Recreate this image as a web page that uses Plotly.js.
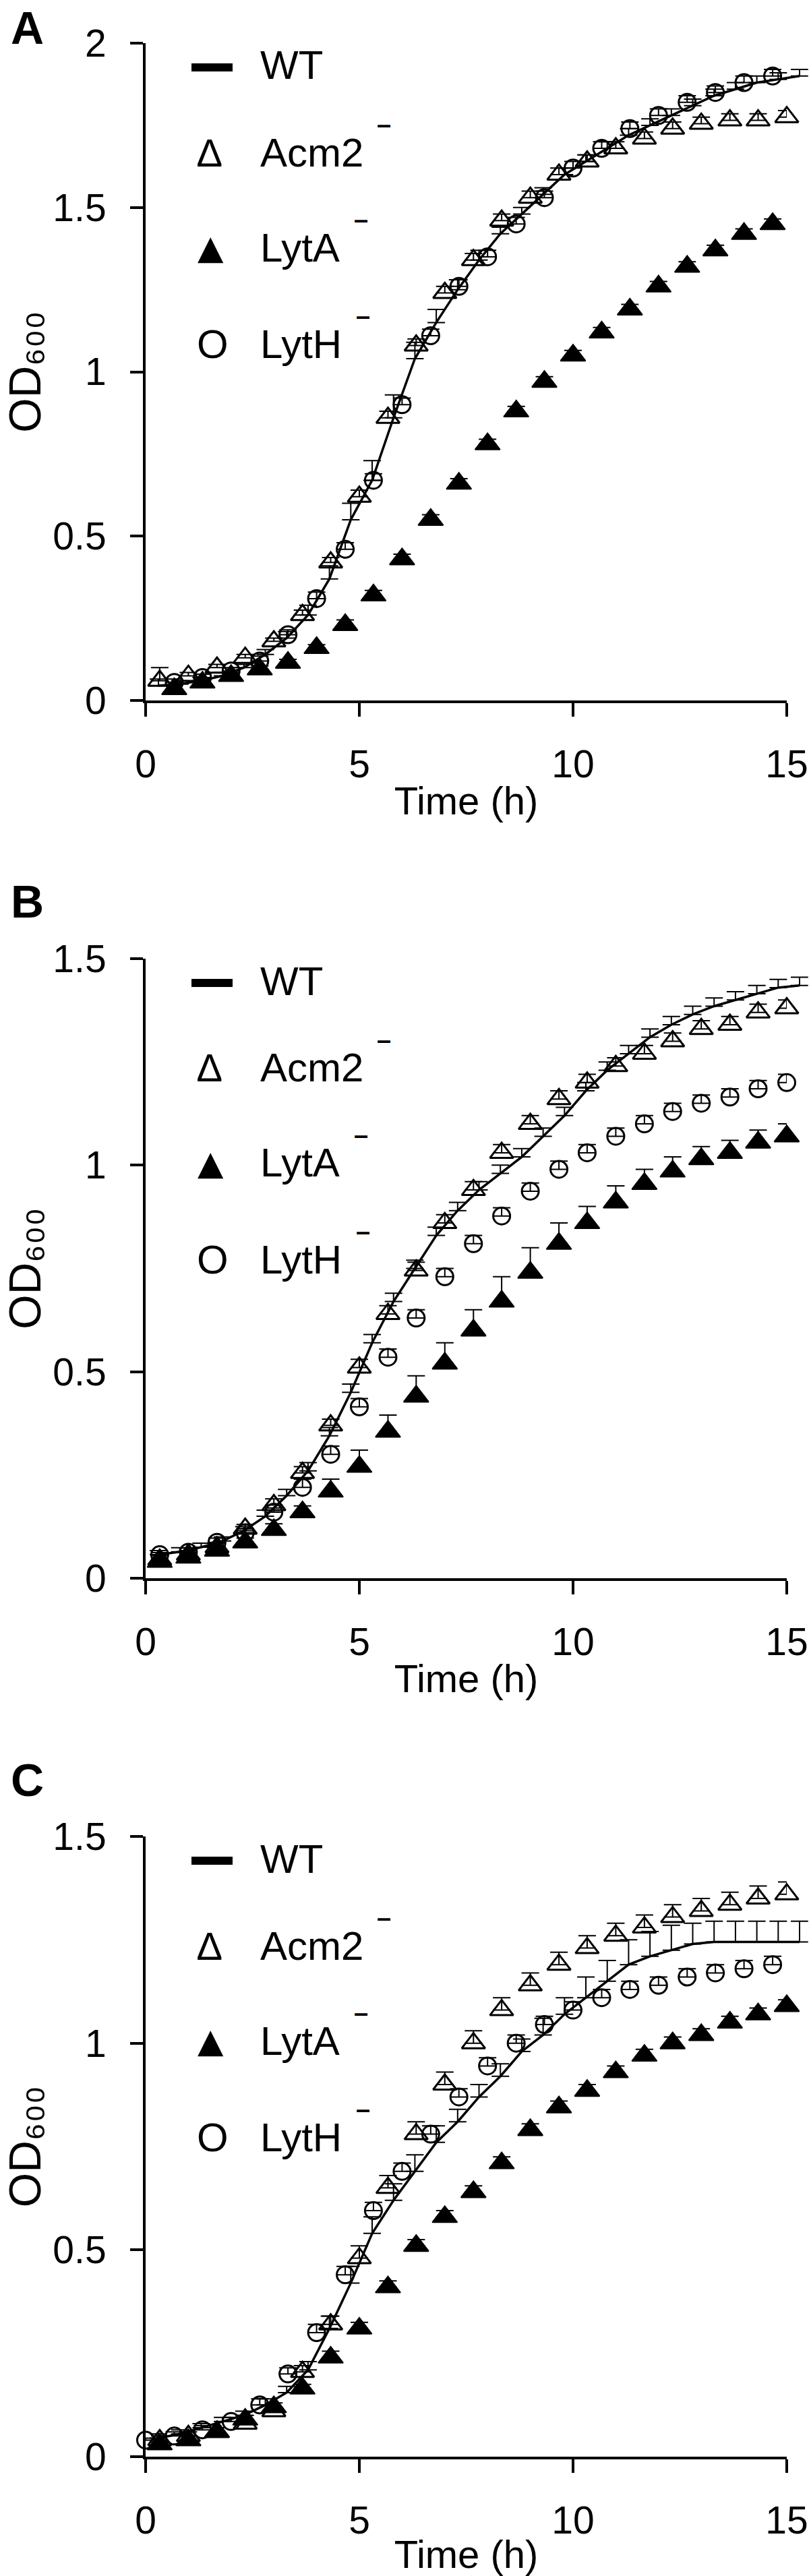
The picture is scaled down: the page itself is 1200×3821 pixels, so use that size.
<!DOCTYPE html>
<html>
<head>
<meta charset="utf-8">
<script src="https://cdn.plot.ly/plotly-3.0.1.min.js"></script>
<style>html,body{margin:0;padding:0;background:#fff;}#chart{width:1200px;height:3821px;}</style>
</head>
<body>
<div id="chart"></div>
<script>
// ---------- time points (h) ----------
const tWT = [0.3,0.8,1.3,1.8,2.3,2.8,3.3,3.8,4.3,4.8,5.3,5.8,6.3,6.8,7.3,7.8,8.3,8.8,9.3,9.8,10.3,10.8,11.3,11.8,12.3,12.8,13.3,13.8,14.3,14.8,15.3];
const tOdd = [0.33,1,1.67,2.33,3,3.67,4.33,5,5.67,6.33,7,7.67,8.33,9,9.67,10.33,11,11.67,12.33,13,13.67,14.33,15];
const tEven = [0.67,1.33,2,2.67,3.33,4,4.67,5.33,6,6.67,7.33,8,8.67,9.33,10,10.67,11.33,12,12.67,13.33,14,14.67];
const tZero = [0,0.67,1.33,2,2.67,3.33,4,4.67,5.33,6,6.67,7.33,8,8.67,9.33,10,10.67,11.33,12,12.67,13.33,14,14.67];

// ---------- Panel A ----------
const A_wt = [0.045,0.05,0.06,0.075,0.10,0.14,0.19,0.26,0.37,0.55,0.67,0.86,1.04,1.15,1.25,1.34,1.42,1.48,1.54,1.60,1.64,1.68,1.72,1.75,1.78,1.81,1.84,1.86,1.88,1.89,1.90];
const A_wtErr = [0.02,0.01,0.01,0.01,0.01,0.015,0.02,0.03,0.04,0.05,0.06,0.07,0.05,0.04,0.03,0.03,0.02,0.02,0.02,0.02,0.02,0.02,0.02,0.02,0.02,0.02,0.02,0.02,0.02,0.02,0.02];
const A_acm2 = [0.06,0.075,0.10,0.13,0.18,0.26,0.42,0.62,0.86,1.08,1.24,1.34,1.46,1.53,1.60,1.64,1.68,1.71,1.74,1.755,1.765,1.765,1.775];
const A_acm2Err = [0.04,0.01,0.01,0.01,0.01,0.015,0.015,0.02,0.02,0.02,0.02,0.02,0.02,0.02,0.02,0.02,0.02,0.02,0.02,0.02,0.02,0.02,0.02];
const A_lytA = [0.035,0.055,0.075,0.095,0.115,0.16,0.23,0.32,0.43,0.55,0.66,0.78,0.88,0.97,1.05,1.12,1.19,1.26,1.32,1.37,1.42,1.45];
const A_lytAErr = [0.01,0.01,0.01,0.01,0.01,0.01,0.015,0.015,0.015,0.015,0.015,0.015,0.015,0.015,0.015,0.015,0.015,0.015,0.015,0.015,0.015,0.015];
const A_lytH = [0.055,0.07,0.09,0.12,0.20,0.31,0.46,0.67,0.90,1.11,1.26,1.35,1.45,1.53,1.62,1.68,1.74,1.78,1.82,1.85,1.88,1.90];
const A_lytHErr = [0.01,0.01,0.01,0.015,0.015,0.02,0.02,0.02,0.02,0.02,0.02,0.02,0.02,0.02,0.02,0.02,0.02,0.02,0.02,0.02,0.02,0.02];

// ---------- Panel B ----------
const B_wt = [0.057,0.064,0.075,0.09,0.115,0.15,0.20,0.26,0.345,0.45,0.57,0.67,0.75,0.83,0.89,0.94,0.98,1.02,1.07,1.12,1.18,1.23,1.27,1.31,1.34,1.365,1.385,1.40,1.415,1.43,1.435];
const B_wtErr = [0.01,0.01,0.01,0.01,0.01,0.015,0.015,0.02,0.02,0.02,0.02,0.02,0.02,0.02,0.02,0.02,0.02,0.02,0.02,0.02,0.02,0.02,0.02,0.02,0.02,0.02,0.02,0.02,0.02,0.02,0.02];
const B_acm2 = [0.045,0.057,0.075,0.12,0.177,0.255,0.37,0.51,0.64,0.745,0.86,0.94,1.03,1.10,1.16,1.20,1.24,1.27,1.30,1.33,1.34,1.37,1.38];
const B_acm2Err = [0.01,0.01,0.01,0.01,0.015,0.015,0.015,0.02,0.02,0.02,0.02,0.02,0.02,0.02,0.02,0.02,0.02,0.02,0.02,0.02,0.02,0.02,0.02];
const B_lytA = [0.04,0.05,0.067,0.087,0.117,0.16,0.21,0.27,0.355,0.44,0.52,0.60,0.67,0.74,0.81,0.86,0.91,0.955,0.985,1.015,1.03,1.055,1.07];
const B_lytAErr = [0.005,0.01,0.01,0.01,0.015,0.015,0.03,0.04,0.04,0.05,0.05,0.05,0.06,0.06,0.05,0.04,0.04,0.035,0.035,0.03,0.03,0.03,0.03];
const B_lytH = [0.057,0.063,0.087,0.11,0.16,0.22,0.30,0.415,0.535,0.63,0.73,0.81,0.877,0.937,0.99,1.03,1.07,1.10,1.13,1.15,1.165,1.185,1.20];
const B_lytHErr = [0.005,0.01,0.01,0.01,0.01,0.02,0.02,0.02,0.02,0.02,0.02,0.02,0.02,0.02,0.02,0.02,0.02,0.02,0.02,0.02,0.02,0.02,0.02];

// ---------- Panel C ----------
const C_wt = [0.045,0.055,0.07,0.085,0.10,0.125,0.155,0.21,0.31,0.42,0.54,0.62,0.69,0.76,0.81,0.87,0.92,0.98,1.02,1.07,1.11,1.15,1.19,1.21,1.225,1.24,1.245,1.245,1.245,1.245,1.245];
const C_wtErr = [0.01,0.01,0.01,0.01,0.01,0.015,0.015,0.02,0.03,0.04,0.04,0.04,0.04,0.04,0.03,0.03,0.03,0.03,0.04,0.04,0.05,0.05,0.06,0.06,0.06,0.05,0.05,0.05,0.05,0.05,0.05];
const C_acm2 = [0.04,0.05,0.06,0.08,0.11,0.205,0.32,0.48,0.65,0.78,0.90,1.0,1.08,1.14,1.19,1.23,1.26,1.28,1.305,1.32,1.335,1.35,1.36];
const C_acm2Err = [0.01,0.01,0.01,0.01,0.01,0.015,0.02,0.03,0.03,0.03,0.03,0.03,0.03,0.03,0.03,0.03,0.03,0.03,0.03,0.03,0.03,0.03,0.03];
const C_lytA = [0.03,0.04,0.06,0.09,0.12,0.165,0.24,0.31,0.41,0.51,0.58,0.64,0.71,0.79,0.845,0.885,0.93,0.97,1.0,1.02,1.05,1.07,1.09];
const C_lytAErr = [0.005,0.01,0.01,0.01,0.01,0.01,0.015,0.015,0.015,0.015,0.015,0.015,0.015,0.015,0.015,0.015,0.015,0.015,0.015,0.015,0.015,0.015,0.015];
const C_lytH = [0.04,0.05,0.065,0.085,0.125,0.20,0.30,0.44,0.595,0.69,0.78,0.87,0.945,1.0,1.045,1.08,1.11,1.13,1.14,1.16,1.17,1.18,1.19];
const C_lytHErr = [0.005,0.01,0.01,0.01,0.015,0.015,0.02,0.02,0.02,0.02,0.02,0.02,0.02,0.02,0.02,0.02,0.02,0.02,0.02,0.02,0.02,0.02,0.02];

// ---------- labels ----------
const panelLetters = ['A','B','C'];
const seriesNames = ['WT','Acm2','LytA','LytH'];
const mutantMark = '\u2013';
const legendGlyphs = ['', '\u2206', '\u25B2', 'O'];
const yMax = [2, 1.5, 1.5];
const xTitle = 'Time (h)';
const yTitle = 'OD\u2086\u2080\u2080';

// ---------- geometry (pixels) ----------
const W = 1200, H = 3821;
const xLeftPx = 216, xRightPx = 1167;           // x = 0 .. 15
const pxPerHour = (xRightPx - xLeftPx) / 15;
const panelTopPx = [64, 1422, 2724];
const panelBotPx = [1039, 2341, 3644];
const letterTopPx = [0, 1296, 2599];
const FONT = 'Liberation Sans, Arial, Helvetica, sans-serif';

const panels = [
  {wt:[tWT,A_wt,A_wtErr], acm2:[tOdd,A_acm2,A_acm2Err], lytA:[tEven,A_lytA,A_lytAErr], lytH:[tEven,A_lytH,A_lytHErr]},
  {wt:[tWT,B_wt,B_wtErr], acm2:[tOdd,B_acm2,B_acm2Err], lytA:[tOdd,B_lytA,B_lytAErr], lytH:[tOdd,B_lytH,B_lytHErr]},
  {wt:[tWT,C_wt,C_wtErr], acm2:[tOdd,C_acm2,C_acm2Err], lytA:[tOdd,C_lytA,C_lytAErr], lytH:[tZero,C_lytH,C_lytHErr]}
];

const data = [];
const layout = {
  width: W, height: H, autosize: false,
  margin: {l:0, r:0, t:0, b:0, pad:0},
  paper_bgcolor: '#fff', plot_bgcolor: 'rgba(0,0,0,0)',
  showlegend: false,
  font: {family: FONT, color: '#000', size: 57},
  annotations: [], shapes: []
};

function errBar(arr) {
  return {type:'data', symmetric:false, array:arr, arrayminus:arr.map(() => 0),
          color:'#000', thickness:2, width:13, visible:true};
}

const xDomMain = [xLeftPx / W, xRightPx / W];
const extRange = 15.5;
const xDomExt = [xLeftPx / W, (xLeftPx + extRange * pxPerHour) / W];

panels.forEach((p, i) => {
  const n = i + 1;
  const xs = n === 1 ? '' : String(n);
  const ys = xs;
  const extId = String(n + 3);
  const yDom = [(H - panelBotPx[i]) / H, (H - panelTopPx[i]) / H];

  layout['xaxis' + xs] = {
    domain: xDomMain, anchor: 'y' + ys, range: [0, 15], fixedrange: true,
    tickmode: 'linear', tick0: 0, dtick: 5,
    showline: true, linewidth: 4, linecolor: '#000',
    ticks: 'outside', ticklen: 20, tickwidth: 4, tickcolor: '#000',
    showgrid: false, zeroline: false,
    tickfont: {family: FONT, size: 57, color: '#000'},
    ticklabelstandoff: 22,
    title: {text: xTitle, font: {family: FONT, size: 58, color: '#000'}, standoff: 4}
  };
  layout['yaxis' + ys] = {
    domain: yDom, anchor: 'x' + xs, range: [0, yMax[i]], fixedrange: true,
    tickmode: 'linear', tick0: 0, dtick: 0.5,
    showline: true, linewidth: 4, linecolor: '#000',
    ticks: 'outside', ticklen: 19, tickwidth: 4, tickcolor: '#000',
    showgrid: false, zeroline: false,
    tickfont: {family: FONT, size: 57, color: '#000'},
    ticklabelstandoff: 24,
    title: {text: yTitle, font: {family: FONT, size: 66, color: '#000'}, standoff: 10}
  };
  // invisible extended x axis (same scale) so the WT curve may run past 15 h
  layout['xaxis' + extId] = {
    domain: xDomExt, anchor: 'y' + ys, range: [0, extRange], visible: false, fixedrange: true
  };

  const xm = 'x' + xs, xe = 'x' + extId, ya = 'y' + ys;
  data.push({type:'scatter', mode:'markers', name:seriesNames[1], x:p.acm2[0], y:p.acm2[1],
    xaxis:xm, yaxis:ya, cliponaxis:false,
    marker:{symbol:'triangle-up-open', size:30, color:'#000', line:{color:'#000', width:3}},
    error_y:errBar(p.acm2[2]), showlegend:false});
  data.push({type:'scatter', mode:'markers', name:seriesNames[2], x:p.lytA[0], y:p.lytA[1],
    xaxis:xm, yaxis:ya, cliponaxis:false,
    marker:{symbol:'triangle-up', size:32, color:'#000', line:{color:'#000', width:2}},
    error_y:errBar(p.lytA[2]), showlegend:false});
  data.push({type:'scatter', mode:'markers', name:seriesNames[3], x:p.lytH[0], y:p.lytH[1],
    xaxis:xm, yaxis:ya, cliponaxis:false,
    marker:{symbol:'circle-open', size:25, color:'#000', line:{color:'#000', width:3}},
    error_y:errBar(p.lytH[2]), showlegend:false});
  data.push({type:'scatter', mode:'lines', name:seriesNames[0], x:p.wt[0], y:p.wt[1],
    xaxis:xe, yaxis:ya, line:{color:'#000', width:3.5}, error_y:errBar(p.wt[2]), showlegend:false});

  // panel letter
  const top = panelTopPx[i];
  layout.annotations.push({xref:'paper', yref:'paper', x:14/W, y:1 - (letterTopPx[i] + 1)/H,
    xanchor:'left', yanchor:'top', showarrow:false, text:'<b>' + panelLetters[i] + '</b>',
    font:{family:FONT, size:68, color:'#000'}});

  // legend (drawn as text, like the original)
  const rowOff = [33, 162, 303, 446];
  const dashX = [0, 569, 535, 538];
  layout.shapes.push({type:'line', xref:'paper', yref:'paper',
    x0:284/W, x1:345/W, y0:1 - (top + 36)/H, y1:1 - (top + 36)/H,
    line:{color:'#000', width:12}});
  const glyphX = [0, 311, 313, 316];
  const glyphSize = [0, 58, 50, 60];
  for (let k = 0; k < 4; k++) {
    const yc = 1 - (top + rowOff[k]) / H;
    if (k > 0) {
      layout.annotations.push({xref:'paper', yref:'paper', x:glyphX[k]/W, y:yc,
        xanchor:'center', yanchor:'middle', showarrow:false, text:legendGlyphs[k],
        font:{family: k === 2 ? 'DejaVu Sans' : FONT, size:glyphSize[k], color:'#000'}});
      // raised minus sign after mutant names
      layout.annotations.push({xref:'paper', yref:'paper', x:dashX[k]/W, y:1 - (top + rowOff[k] - 41)/H,
        xanchor:'center', yanchor:'middle', showarrow:false, text:'<b>' + mutantMark + '</b>',
        font:{family:FONT, size:38, color:'#000'}});
    }
    layout.annotations.push({xref:'paper', yref:'paper', x:384/W, y:yc,
      xanchor:'left', yanchor:'middle', showarrow:false, text:seriesNames[k],
      font:{family:FONT, size:60, color:'#000'}});
  }
});

Plotly.newPlot('chart', data, layout, {staticPlot:true, displayModeBar:false});
</script>
</body>
</html>
